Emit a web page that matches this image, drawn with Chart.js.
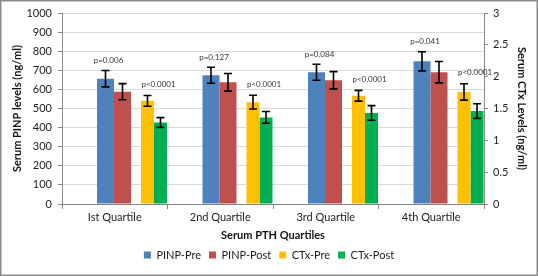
<!DOCTYPE html>
<html>
<head>
<meta charset="utf-8">
<script src="https://cdn.jsdelivr.net/npm/chart.js@4.4.1/dist/chart.umd.min.js"></script>
<style>
  html, body { margin: 0; padding: 0; background: #fff; }
  #wrap { width: 538px; height: 276px; position: relative; }
</style>
</head>
<body>
<div id="wrap"><canvas id="pthChart"></canvas></div>
<script>
// values
const quartiles = ['Ist Quartile', '2nd Quartile', '3rd Quartile', '4th Quartile'];

const pinpPre = [656, 674, 690, 747];
const pinpPreErr = [43, 42, 42, 50];
const pinpPost = [588, 637, 648, 690];
const pinpPostErr = [42, 46, 45, 56];

const ctxPre = [1.62, 1.60, 1.70, 1.76];
const ctxPreErr = [0.084, 0.107, 0.084, 0.128];
const ctxPost = [1.28, 1.36, 1.43, 1.46];
const ctxPostErr = [0.076, 0.092, 0.115, 0.115];

const pinpPValues = ['p=0.006', 'p=0.127', 'p=0.084', 'p=0.041'];
const ctxPValues = ['p<0.0001', 'p<0.0001', 'p<0.0001', 'p<0.0001'];

const pinpRange = [0, 1000, 100];
const ctxRange = [0, 3, 0.5];

Chart.defaults.font.family = 'Lato, "Open Sans", sans-serif';
Chart.defaults.color = '#222';

const axisGray = '#868686';

// Bars share one group of 6 slots (2 empty ones first). Each dataset gets its
// own category/bar percentage so the PINP pair sits mid-quartile and the CTx
// pair is pushed to the right edge, like the Excel combo chart.
const spacer = () => ({ label: '', data: quartiles.map(() => null) });

const datasets = [
  spacer(), spacer(),
  { label: 'PINP-Pre', data: pinpPre, errors: pinpPreErr, backgroundColor: '#4F81BD',
    yAxisID: 'y', categoryPercentage: 1.052, barPercentage: 0.919 },
  { label: 'PINP-Post', data: pinpPost, errors: pinpPostErr, backgroundColor: '#C0504D',
    yAxisID: 'y', categoryPercentage: 0.8815, barPercentage: 1.097 },
  { label: 'CTx-Pre', data: ctxPre, errors: ctxPreErr, backgroundColor: '#FFC000',
    yAxisID: 'y2', categoryPercentage: 1.2417, barPercentage: 0.5955 },
  { label: 'CTx-Post', data: ctxPost, errors: ctxPostErr, backgroundColor: '#00B050',
    yAxisID: 'y2', categoryPercentage: 1.0408, barPercentage: 0.7104 }
];

const frame = {
  id: 'frame',
  beforeDraw(chart) {
    const ctx = chart.ctx;
    ctx.save();
    ctx.fillStyle = '#fff';
    ctx.fillRect(0, 0, chart.width, chart.height);
    ctx.restore();
  },
  afterDraw(chart) {
    const ctx = chart.ctx;
    ctx.save();
    ctx.strokeStyle = '#8a8a8a';
    ctx.lineWidth = 1.5;
    ctx.strokeRect(0.75, 0.75, chart.width - 1.5, chart.height - 1.5);
    ctx.restore();
  }
};

const errorBars = {
  id: 'errorBars',
  afterDatasetsDraw(chart) {
    const ctx = chart.ctx;
    ctx.save();
    ctx.strokeStyle = '#000';
    ctx.lineWidth = 1.6;
    chart.data.datasets.forEach((ds, i) => {
      if (!ds.errors) return;
      const yScale = chart.scales[ds.yAxisID];
      chart.getDatasetMeta(i).data.forEach((bar, j) => {
        const top = yScale.getPixelForValue(ds.data[j] + ds.errors[j]);
        const bot = yScale.getPixelForValue(ds.data[j] - ds.errors[j]);
        ctx.beginPath();
        ctx.moveTo(bar.x, top); ctx.lineTo(bar.x, bot);
        ctx.moveTo(bar.x - 4, top); ctx.lineTo(bar.x + 4, top);
        ctx.moveTo(bar.x - 4, bot); ctx.lineTo(bar.x + 4, bot);
        ctx.stroke();
      });
    });
    ctx.restore();
  }
};

const metaFor = (chart, label) =>
  chart.getDatasetMeta(chart.data.datasets.findIndex(d => d.label === label));

const pLabels = {
  id: 'pLabels',
  afterDatasetsDraw(chart) {
    const ctx = chart.ctx;
    const y = chart.scales.y, y2 = chart.scales.y2;
    const preMeta = metaFor(chart, 'PINP-Pre');
    const postMeta = metaFor(chart, 'CTx-Post');
    ctx.save();
    ctx.font = '8px Lato, sans-serif';
    ctx.fillStyle = '#333';
    ctx.textAlign = 'center';
    ctx.textBaseline = 'middle';
    quartiles.forEach((q, j) => {
      const pinpTop = y.getPixelForValue(pinpPre[j] + pinpPreErr[j]);
      ctx.fillText(pinpPValues[j], preMeta.data[j].x + 3, pinpTop - 10);
      const ctxTop = Math.min(y2.getPixelForValue(ctxPre[j] + ctxPreErr[j]),
                              y2.getPixelForValue(ctxPost[j] + ctxPostErr[j]));
      ctx.fillText(ctxPValues[j], postMeta.data[j].x - 2, ctxTop - 11);
    });
    ctx.restore();
  }
};

new Chart(document.getElementById('pthChart'), {
  type: 'bar',
  data: { labels: quartiles, datasets: datasets },
  options: {
    responsive: true,
    maintainAspectRatio: false,
    animation: false,
    layout: { padding: { top: 13, left: 0, right: 0, bottom: 5.5 } },
    plugins: {
      legend: {
        position: 'bottom',
        labels: {
          boxWidth: 7, boxHeight: 7, padding: 8,
          font: { size: 11 }, color: '#222',
          filter: item => item.text !== ''
        }
      },
      tooltip: { enabled: false }
    },
    scales: {
      x: {
        type: 'category',
        offset: true,
        grid: { offset: true, drawOnChartArea: false, tickLength: 5, tickColor: axisGray },
        border: { color: axisGray },
        ticks: { padding: 1.5, font: { size: 11 }, color: '#222' },
        title: { display: true, text: 'Serum PTH Quartiles', color: '#111',
                 font: { size: 11, weight: 'bold' }, padding: { top: 4, bottom: -1 } },
        afterFit: s => { s.height = 37.5; }
      },
      y: {
        position: 'left',
        min: pinpRange[0], max: pinpRange[1],
        ticks: { stepSize: pinpRange[2], padding: 6, font: { size: 11 }, color: '#222',
                 callback: v => String(v) },
        grid: { color: '#d9d9d9', tickLength: 4, tickColor: axisGray },
        border: { color: axisGray },
        title: { display: true, text: 'Serum PINP levels (ng/ml)', color: '#111',
                 font: { size: 11, weight: 'bold' }, padding: { top: 11, bottom: 0 } },
        afterFit: s => { s.width = 62; }
      },
      y2: {
        position: 'right',
        min: ctxRange[0], max: ctxRange[1],
        ticks: { stepSize: ctxRange[2], padding: 5, font: { size: 11 }, color: '#222',
                 callback: v => String(v) },
        grid: { drawOnChartArea: false, tickLength: 4, tickColor: axisGray },
        border: { color: axisGray },
        title: { display: true, text: 'Serum CTx Levels (ng/ml)', color: '#111',
                 font: { size: 11, weight: 'bold' }, padding: { top: 10, bottom: 0 } },
        afterFit: s => { s.width = 54; }
      }
    }
  },
  plugins: [frame, errorBars, pLabels]
});
</script>
</body>
</html>
